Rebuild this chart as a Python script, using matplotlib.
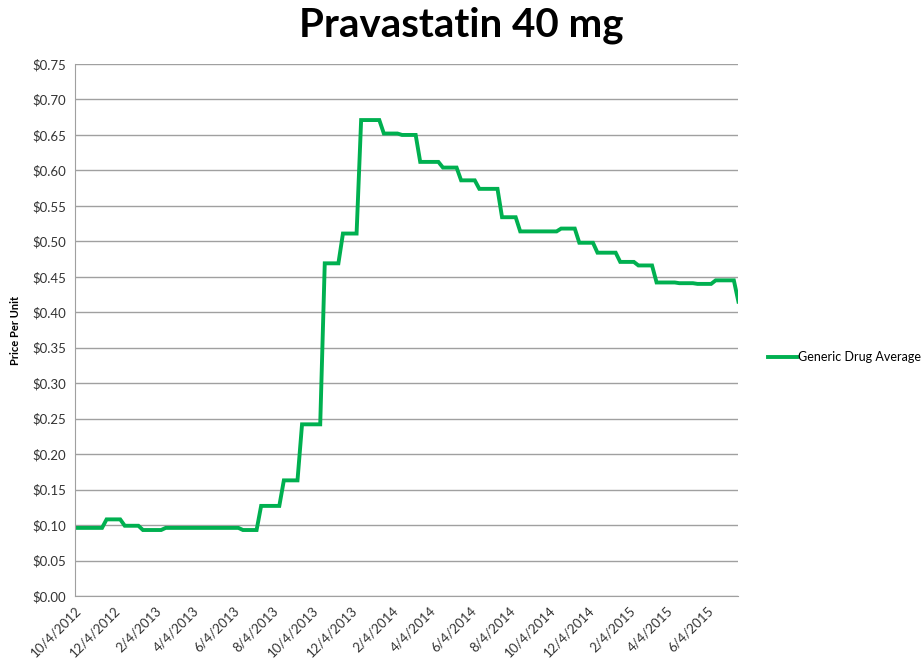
import matplotlib
matplotlib.use('Agg')
import matplotlib.pyplot as plt
import pandas as pd

# step points (weekly data, each step drawn over one week)
dates = ['2012-10-04', '2012-11-15', '2012-11-22', '2012-12-13', '2012-12-20',
         '2013-01-10', '2013-01-17', '2013-02-14', '2013-02-21', '2013-06-13',
         '2013-06-20', '2013-07-11', '2013-07-18', '2013-08-15', '2013-08-22',
         '2013-09-12', '2013-09-19', '2013-10-17', '2013-10-24', '2013-11-14',
         '2013-11-21', '2013-12-12', '2013-12-19', '2014-01-16', '2014-01-23',
         '2014-02-13', '2014-02-20', '2014-03-13', '2014-03-20', '2014-04-17',
         '2014-04-24', '2014-05-15', '2014-05-22', '2014-06-12', '2014-06-19',
         '2014-07-17', '2014-07-24', '2014-08-14', '2014-08-21', '2014-10-16',
         '2014-10-23', '2014-11-13', '2014-11-20', '2014-12-11', '2014-12-18',
         '2015-01-15', '2015-01-22', '2015-02-12', '2015-02-19', '2015-03-12',
         '2015-03-19', '2015-04-16', '2015-04-23', '2015-05-14', '2015-05-21',
         '2015-06-11', '2015-06-18', '2015-07-16', '2015-07-23']
prices = [0.096, 0.096, 0.108, 0.108, 0.099,
          0.099, 0.093, 0.093, 0.096, 0.096,
          0.093, 0.093, 0.127, 0.127, 0.163,
          0.163, 0.242, 0.242, 0.469, 0.469,
          0.511, 0.511, 0.671, 0.671, 0.652,
          0.652, 0.650, 0.650, 0.612, 0.612,
          0.604, 0.604, 0.586, 0.586, 0.574,
          0.574, 0.534, 0.534, 0.514, 0.514,
          0.518, 0.518, 0.498, 0.498, 0.484,
          0.484, 0.471, 0.471, 0.466, 0.466,
          0.442, 0.442, 0.441, 0.441, 0.440,
          0.440, 0.445, 0.445, 0.415]

tick_dates = pd.date_range('2012-10-01', periods=17, freq='2MS') + pd.Timedelta(days=3)
yticks = [i * 0.05 for i in range(16)]

plt.rcParams['font.family'] = ['Lato', 'DejaVu Sans']

fig = plt.figure(figsize=(9.23, 6.6), dpi=100)
ax = fig.add_axes([0.081, 0.097, 0.719, 0.806])

x = pd.to_datetime(dates)
line, = ax.plot(x, prices, color='#00B050', lw=2.8, solid_joinstyle='miter')

ax.set_xlim(pd.Timestamp('2012-10-04'), pd.Timestamp('2015-07-23'))
ax.set_ylim(0, 0.75)
ax.set_yticks(yticks)
ax.set_yticklabels(['$%.2f' % v for v in yticks])
ax.set_xticks(tick_dates)
ax.set_xticklabels([f'{d.month}/{d.day}/{d.year}' for d in tick_dates],
                   rotation=45, ha='right', rotation_mode='anchor')
ax.tick_params(length=0, labelsize=9.5, colors='#333333', pad=6)
ax.grid(axis='y', color='#A0A0A0', lw=1)
ax.set_axisbelow(True)
for s in ['top', 'right']:
    ax.spines[s].set_visible(False)
for s in ['left', 'bottom']:
    ax.spines[s].set_color('#A0A0A0')

ax.set_ylabel('Price Per Unit', fontsize=8, fontweight='bold', labelpad=8)
fig.suptitle('Pravastatin 40 mg', fontsize=29, fontweight='bold', y=0.99)

fig.legend([line], ['Generic Drug Average'], loc='center left',
           bbox_to_anchor=(0.827, 0.459), frameon=False, fontsize=9,
           handlelength=2.3, handletextpad=0.1, borderaxespad=0)

fig.savefig('out.png', dpi=100)
